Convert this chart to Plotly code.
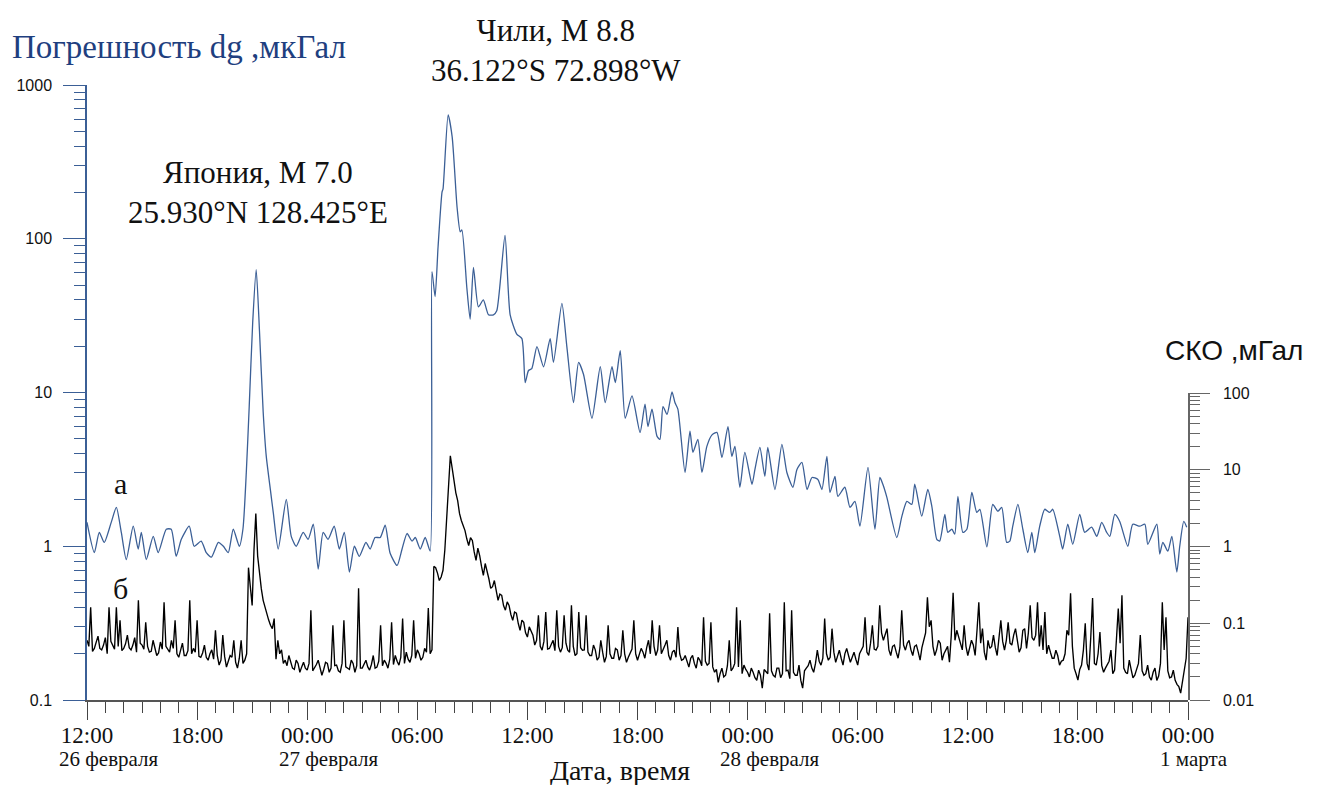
import pandas as pd
import plotly.graph_objects as go

# ---------------- data ----------------
start = pd.Timestamp("2010-02-26 12:00")
end = pd.Timestamp("2010-03-01 00:00")

# curve "а": Погрешность dg, мкГал (hours after 26 Feb 12:00, value)
blue_hours = [
    0.00, 0.40, 0.67, 0.94, 1.32, 1.60, 1.87, 2.14, 2.52, 2.79, 2.96, 3.23, 3.61, 3.88,
    4.32, 4.59, 4.86, 5.14, 5.57, 5.84, 6.22, 6.50, 6.78, 7.16, 7.43, 7.70, 7.97, 8.30,
    8.50, 8.68, 8.84, 9.03, 9.22, 9.40, 9.60, 9.77, 10.00, 10.15, 10.42, 10.86, 11.13,
    11.40, 11.78, 12.05, 12.33, 12.60, 12.87, 13.14, 13.47, 13.75, 14.02, 14.30, 14.57,
    14.84, 15.20, 15.43, 15.70, 15.98, 16.25, 16.52, 16.90, 17.17, 17.44, 17.71, 17.89,
    18.16, 18.43, 18.70, 18.80, 18.97, 19.13, 19.35, 19.40, 19.68, 19.90, 20.17, 20.34,
    20.43, 20.70, 20.88, 21.06, 21.33, 21.60, 21.88, 22.15, 22.33, 22.78, 23.06, 23.42,
    23.70, 23.88, 24.06, 24.24, 24.52, 24.88, 25.24, 25.42, 25.88, 26.15, 26.51, 26.79,
    27.06, 27.52, 27.97, 28.24, 28.61, 28.79, 29.06, 29.33, 29.70, 30.14, 30.41, 30.57,
    30.79, 31.06, 31.22, 31.39, 31.61, 31.88, 32.04, 32.20, 32.59, 32.86, 33.02, 33.29,
    33.51, 33.78, 34.06, 34.33, 34.60, 34.93, 35.14, 35.31, 35.58, 35.85, 36.24, 36.40,
    36.67, 36.94, 37.10, 37.49, 37.87, 38.14, 38.47, 38.69, 38.96, 39.24, 39.51, 39.83,
    40.05, 40.32, 40.49, 40.76, 40.92, 41.30, 41.58, 41.85, 42.12, 42.56, 42.94, 43.21,
    43.37, 43.59, 44.13, 44.41, 44.68, 44.95, 45.11, 45.49, 45.82, 46.04, 46.31, 46.47,
    46.75, 46.91, 47.13, 47.29, 47.46, 47.73, 47.95, 48.22, 48.49, 48.66, 49.04, 49.36,
    49.64, 49.85, 50.12, 50.29, 50.45, 50.73, 51.00, 51.27, 51.49, 51.65, 51.92, 52.19,
    52.46, 52.63, 53.01, 53.17, 53.45, 53.72, 54.10, 54.37, 54.75, 55.03, 55.30, 55.57,
    55.74, 56.01, 56.28, 56.72, 56.99, 57.37, 57.65, 57.81, 58.30, 58.46, 58.63, 58.90,
    59.12, 59.39, 59.55, 59.77, 59.93,
]
blue_values = [
    1.43, 0.91, 1.23, 1.06, 1.43, 1.79, 1.23, 0.82, 1.35, 0.96, 1.23, 0.82, 1.16, 0.91,
    1.29, 1.29, 0.86, 1.11, 1.35, 1.00, 1.08, 0.91, 0.85, 1.06, 1.00, 0.91, 1.29, 1.00,
    1.30, 3.0, 8.1, 28.5, 63.0, 25.0, 7.5, 3.84, 2.3, 1.66, 0.96, 2.02, 1.16,
    1.00, 1.23, 1.11, 1.39, 0.71, 1.23, 1.11, 1.35, 0.96, 1.23, 0.68, 1.00,
    0.86, 1.06, 0.96, 1.14, 1.14, 1.37, 0.90, 0.75, 0.96, 1.21, 1.08, 1.14,
    0.96, 1.14, 0.93, 61.0, 42.0, 88.0, 202.0, 210.0, 640.0, 460.0, 159.0, 111.0,
    114.0, 48.0, 30.0, 65.0, 36.0, 40.0, 32.0, 32.0, 34.0, 105.0, 32.0, 24.0,
    22.4, 11.6, 13.9, 14.3, 19.9, 14.7, 22.4, 15.7, 38.0, 19.9, 8.6, 15.7,
    13.1, 6.8, 14.7, 8.6, 14.7, 11.6, 18.7, 6.8, 9.5, 5.5, 8.4, 6.0,
    7.8, 5.2, 4.95, 8.1, 7.2, 10.1, 8.6, 7.8, 3.02, 5.6, 4.08, 4.95,
    3.02, 4.46, 5.3, 5.5, 3.78, 6.0, 3.84, 4.46, 2.42, 4.08, 2.53, 3.16,
    4.39, 2.85, 4.39, 2.34, 4.6, 3.02, 2.42, 3.16, 3.51, 2.34, 2.8, 2.72,
    2.34, 3.84, 2.24, 2.85, 2.11, 2.42, 1.79, 1.96, 1.35, 3.26, 1.29, 2.8,
    2.53, 2.08, 1.14, 1.57, 1.96, 1.87, 2.53, 1.57, 2.34, 1.82, 1.11, 1.08,
    1.61, 1.23, 1.29, 1.20, 2.11, 1.23, 1.29, 2.24, 1.66, 1.74, 0.99, 1.87,
    1.69, 1.79, 1.06, 1.08, 1.35, 1.87, 1.29, 0.91, 1.23, 0.91, 1.35, 1.74,
    1.66, 1.74, 1.16, 0.96, 1.39, 1.03, 1.61, 1.23, 1.33, 1.16, 1.43, 1.23,
    1.16, 1.61, 1.45, 1.00, 1.39, 1.35, 1.39, 1.03, 1.39, 0.89, 1.06, 0.93,
    1.16, 0.68, 1.00, 1.45, 1.33,
]

# curve "б": СКО, мГал.  Readings on the 12-minute grid (from 26 Feb 12:00) ...
black_on_grid = [
    0.060, 0.161, 0.047, 0.068, 0.045, 0.065, 0.161, 0.052, 0.161, 0.109,
    0.047, 0.070, 0.045, 0.065, 0.199, 0.052, 0.103, 0.042, 0.060, 0.038,
    0.057, 0.187, 0.045, 0.060, 0.109, 0.036, 0.055, 0.038, 0.199, 0.047,
    0.109, 0.036, 0.052, 0.033, 0.045, 0.081, 0.0285, 0.070, 0.0268, 0.038,
    0.060, 0.026, 0.060, 0.033,
    0.53, 0.171, 2.69, 0.42, 0.199, 0.14, 0.094,
    0.115, 0.060, 0.045, 0.033, 0.038, 0.026, 0.033, 0.023, 0.031, 0.0245,
    0.148, 0.026, 0.033, 0.021, 0.031, 0.023, 0.094, 0.0285, 0.023, 0.109,
    0.026, 0.033, 0.023, 0.285, 0.026, 0.033, 0.0245, 0.038, 0.0268, 0.094,
    0.033, 0.026, 0.103, 0.038, 0.0285, 0.115, 0.042, 0.031, 0.109, 0.045,
    0.033, 0.047, 0.158,
    0.045,
    0.53, 0.36, 0.49, 2.18, 15.2,
    7.2, 3.95, 2.18, 1.61, 1.03, 1.20, 0.66, 0.76, 0.42, 0.49, 0.285,
    0.36, 0.199, 0.231, 0.148, 0.171, 0.109, 0.135, 0.081, 0.103, 0.066,
    0.081, 0.052, 0.127, 0.0446, 0.14, 0.047, 0.060, 0.148, 0.042, 0.127,
    0.0446, 0.171, 0.038, 0.14, 0.0446, 0.127, 0.038, 0.052, 0.033, 0.060,
    0.031, 0.094, 0.035, 0.047, 0.033, 0.081, 0.031, 0.042, 0.109, 0.033,
    0.047, 0.035, 0.060, 0.109, 0.038, 0.094, 0.0446, 0.060, 0.033, 0.0446,
    0.089, 0.033, 0.038, 0.0268, 0.038, 0.026, 0.033, 0.120, 0.0285, 0.103,
    0.023, 0.017, 0.026, 0.021, 0.060, 0.026, 0.161, 0.109, 0.0285, 0.023,
    0.026, 0.0195, 0.0245, 0.0143, 0.023, 0.135, 0.021, 0.026, 0.0195, 0.187,
    0.0245, 0.148, 0.021, 0.0285, 0.0143, 0.026, 0.033, 0.023, 0.0446, 0.0285,
    0.115, 0.033, 0.085, 0.031, 0.0446, 0.0285, 0.047, 0.031, 0.042, 0.0285,
    0.0446, 0.120, 0.038, 0.094, 0.0446, 0.171, 0.060, 0.085, 0.038, 0.052,
    0.035, 0.148, 0.0446, 0.060, 0.038, 0.052, 0.033, 0.060, 0.218, 0.109,
    0.038, 0.060, 0.033, 0.0446, 0.031, 0.25, 0.081, 0.052, 0.094, 0.038,
    0.060, 0.038, 0.187, 0.085, 0.033, 0.047, 0.070, 0.038, 0.109, 0.0446,
    0.103, 0.052, 0.085, 0.042, 0.081, 0.047, 0.171, 0.060, 0.187, 0.094,
    0.14, 0.052, 0.035, 0.0446, 0.0285, 0.033, 0.081, 0.245, 0.026, 0.0182,
    0.0285, 0.1, 0.0245, 0.213, 0.0285, 0.077, 0.023, 0.0285, 0.0446, 0.0245,
    0.155, 0.231, 0.023, 0.033, 0.0195, 0.026, 0.070, 0.021, 0.0285, 0.0182,
    0.026, 0.0205, 0.187, 0.12, 0.0195, 0.0245, 0.016, 0.0123, 0.023, 0.120,
]
# ... and the readings 6 minutes after each of them
black_half_step = [
    0.050, 0.043, 0.056, 0.047, 0.052, 0.040, 0.058, 0.046, 0.050, 0.044,
    0.054, 0.048, 0.052, 0.042, 0.055, 0.046, 0.050, 0.043, 0.048, 0.041,
    0.046, 0.050, 0.042, 0.047, 0.040, 0.045, 0.038, 0.044, 0.040, 0.042,
    0.037, 0.041, 0.036, 0.040, 0.034, 0.038, 0.033, 0.037, 0.032, 0.036,
    0.031, 0.035, 0.030, 0.040,
    0.30, 0.9, 0.75, 0.28, 0.16, 0.11, 0.085,
    0.034, 0.040, 0.030, 0.028, 0.032, 0.025, 0.030, 0.027, 0.026, 0.030,
    0.024, 0.029, 0.027, 0.025, 0.030, 0.026, 0.028, 0.024, 0.030, 0.027,
    0.025, 0.030, 0.028, 0.026, 0.030, 0.027, 0.029, 0.026, 0.032, 0.028,
    0.030, 0.034, 0.029, 0.032, 0.036, 0.030, 0.034, 0.038, 0.035, 0.040,
    0.036, 0.042, 0.040,
    0.55,
    0.45, 0.40, 0.9, 6.0, 10.5,
    5.0, 2.7, 1.9, 1.25, 1.3, 0.85, 0.95, 0.55, 0.60, 0.38, 0.30,
    0.27, 0.24, 0.17, 0.19, 0.13, 0.14, 0.10, 0.11, 0.075, 0.09, 0.07, 0.060,
    0.050, 0.058, 0.046, 0.052, 0.044, 0.050, 0.048, 0.055, 0.042, 0.050,
    0.040, 0.048, 0.045, 0.042, 0.038, 0.045, 0.036, 0.042, 0.037, 0.040,
    0.035, 0.045, 0.038, 0.040, 0.036, 0.046, 0.040, 0.039,
    0.042, 0.048, 0.040, 0.050, 0.045, 0.040, 0.052, 0.038, 0.042, 0.036,
    0.040, 0.034, 0.032, 0.035, 0.030, 0.036, 0.028, 0.032, 0.030, 0.027,
    0.025, 0.022, 0.020, 0.028, 0.024, 0.030, 0.027, 0.022, 0.025, 0.020,
    0.023, 0.018, 0.021, 0.025, 0.022, 0.024, 0.020, 0.026, 0.022, 0.024,
    0.019, 0.023, 0.021, 0.018, 0.024, 0.028, 0.026, 0.030, 0.032, 0.035,
    0.040, 0.036, 0.042, 0.038, 0.035, 0.040, 0.038, 0.036, 0.034, 0.040,
    0.050, 0.042, 0.055, 0.046, 0.050, 0.075, 0.070, 0.045, 0.050, 0.042,
    0.048, 0.052, 0.055, 0.045, 0.050, 0.042, 0.048,
    0.075, 0.090, 0.050, 0.045, 0.055, 0.040, 0.050, 0.070, 0.060, 0.065,
    0.045, 0.050, 0.048, 0.052, 0.080, 0.055, 0.042, 0.060, 0.050, 0.048,
    0.065, 0.058, 0.060, 0.055, 0.070, 0.060, 0.048, 0.085, 0.075, 0.065,
    0.070, 0.050, 0.045, 0.040, 0.042, 0.035, 0.038, 0.032, 0.040,
    0.070, 0.050, 0.022, 0.025, 0.045, 0.030, 0.065, 0.030, 0.040, 0.028,
    0.026, 0.032, 0.022, 0.060, 0.055, 0.026, 0.022, 0.025, 0.021, 0.030,
    0.024, 0.022, 0.020, 0.023, 0.018, 0.030, 0.045, 0.024, 0.020, 0.018,
    0.015, 0.017, 0.035,
]
black_step_minutes = 6

x_tick_hours = [0, 6, 12, 18, 24, 30, 36, 42, 48, 54, 60]
x_tick_labels = ["12:00", "18:00", "00:00", "06:00", "12:00", "18:00",
                 "00:00", "06:00", "12:00", "18:00", "00:00"]
date_label_hours = [0, 12, 36, 60]
date_labels = ["26 февраля", "27 февраля", "28 февраля", "1 марта"]

left_ticks = [0.1, 1, 10, 100, 1000]
left_tick_labels = ["0.1", "1", "10", "100", "1000"]
right_ticks = [0.01, 0.1, 1, 10, 100]
right_tick_labels = ["0.01", "0.1", "1", "10", "100"]

# merge the two black reading sets in time order
black_values = []
for a, b in zip(black_on_grid, black_half_step):
    black_values += [a, b]
black_values.append(black_on_grid[-1])

# ---------------- figure ----------------
W, H = 1322, 785
ML, MR, MT, MB = 87, 134, 85, 85
PW, PH = W - ML - MR, H - MT - MB


def px(x):
    return (x - ML) / PW


def py(y):
    return (H - MB - y) / PH


blue_x = [start + pd.Timedelta(hours=h) for h in blue_hours]
black_x = [start + pd.Timedelta(minutes=black_step_minutes * i) for i in range(len(black_values))]

BLUE = "#3b5f96"
SERIF = "Liberation Serif"
SANS = "Liberation Sans"

fig = go.Figure()
fig.add_trace(go.Scatter(x=black_x, y=black_values, mode="lines", yaxis="y2",
                         line=dict(color="#000000", width=1.35), showlegend=False))
fig.add_trace(go.Scatter(x=blue_x, y=blue_values, mode="lines", yaxis="y",
                         line=dict(color=BLUE, width=1.3, shape="spline", smoothing=0.6),
                         showlegend=False))


def log_minor(lo, hi):
    vals = []
    e = lo
    while e < hi:
        for k in range(2, 10):
            vals.append(k * 10.0 ** e)
        e += 1
    return vals


x_ticks = [start + pd.Timedelta(hours=h) for h in x_tick_hours]
x_minor = [start + pd.Timedelta(hours=h) for h in range(0, 61)]

fig.update_layout(
    width=W, height=H,
    margin=dict(l=ML, r=MR, t=MT, b=MB, pad=0),
    paper_bgcolor="white", plot_bgcolor="rgba(0,0,0,0)",
    xaxis=dict(
        range=[start, end], showgrid=False, zeroline=False,
        showline=True, linecolor="#555555", linewidth=1.5,
        tickmode="array", tickvals=x_ticks, ticktext=x_tick_labels,
        ticks="outside", ticklen=18, tickwidth=1.2, tickcolor="#444444",
        tickfont=dict(family=SERIF, size=23, color="#111111"),
        ticklabelstandoff=-4,
        minor=dict(tickmode="array", tickvals=x_minor, ticks="outside",
                   ticklen=11, tickwidth=1, tickcolor="#444444", showgrid=False),
        anchor="y",
    ),
    yaxis=dict(
        type="log", range=[-1, 3], showgrid=False, zeroline=False,
        showline=True, linecolor=BLUE, linewidth=1.5,
        tickmode="array", tickvals=left_ticks, ticktext=left_tick_labels,
        ticks="outside", ticklen=22, tickwidth=1.2, tickcolor=BLUE,
        tickfont=dict(family=SANS, size=16, color="#111111"),
        ticklabelstandoff=8,
        minor=dict(tickmode="array", tickvals=log_minor(-1, 3), ticks="outside",
                   ticklen=11, tickwidth=1, tickcolor=BLUE, showgrid=False),
        anchor="x",
    ),
    yaxis2=dict(
        type="log", range=[-2, 2], domain=[0, py(393)],
        side="right", anchor="x", showgrid=False, zeroline=False,
        showline=True, linecolor="#666666", linewidth=1.5,
        tickmode="array", tickvals=right_ticks, ticktext=right_tick_labels,
        ticks="outside", ticklen=20, tickwidth=1.2, tickcolor="#666666",
        tickfont=dict(family=SANS, size=16, color="#111111"),
        ticklabelstandoff=10,
        minor=dict(tickmode="array", tickvals=log_minor(-2, 2), ticks="outside",
                   ticklen=10, tickwidth=1, tickcolor="#666666", showgrid=False),
    ),
)

ann = []
ann.append(dict(text="Погрешность dg ,мкГал", xref="paper", yref="paper",
                x=px(10), y=py(47), xanchor="left", yanchor="middle", showarrow=False,
                font=dict(family=SERIF, size=33, color="#1f3f7f")))
ann.append(dict(text="Чили, М 8.8<br>36.122°S 72.898°W", xref="paper", yref="paper",
                x=px(556), y=py(50), xanchor="center", yanchor="middle", showarrow=False,
                font=dict(family=SERIF, size=31, color="#111111")))
ann.append(dict(text="Япония, М 7.0<br>25.930°N 128.425°E", xref="paper", yref="paper",
                x=px(258), y=py(192), xanchor="center", yanchor="middle", showarrow=False,
                font=dict(family=SERIF, size=31, color="#111111")))
ann.append(dict(text="а", xref="paper", yref="paper", x=px(120), y=py(483),
                xanchor="center", yanchor="middle", showarrow=False,
                font=dict(family=SERIF, size=30, color="#111111")))
ann.append(dict(text="б", xref="paper", yref="paper", x=px(120), y=py(588),
                xanchor="center", yanchor="middle", showarrow=False,
                font=dict(family=SERIF, size=30, color="#111111")))
ann.append(dict(text="Дата, время", xref="paper", yref="paper", x=px(620), y=py(770),
                xanchor="center", yanchor="middle", showarrow=False,
                font=dict(family=SERIF, size=28, color="#111111")))
ann.append(dict(text="СКО ,мГал", xref="paper", yref="paper", x=px(1234), y=py(350),
                xanchor="center", yanchor="middle", showarrow=False,
                font=dict(family=SANS, size=28, color="#111111")))
for h, lab in zip(date_label_hours, date_labels):
    ann.append(dict(text=lab, xref="x", yref="paper", x=start + pd.Timedelta(hours=h),
                    y=py(759), xanchor="left", yanchor="middle", xshift=-30, showarrow=False,
                    font=dict(family=SERIF, size=21, color="#111111")))
fig.update_layout(annotations=ann)

fig.write_html("out.html")
